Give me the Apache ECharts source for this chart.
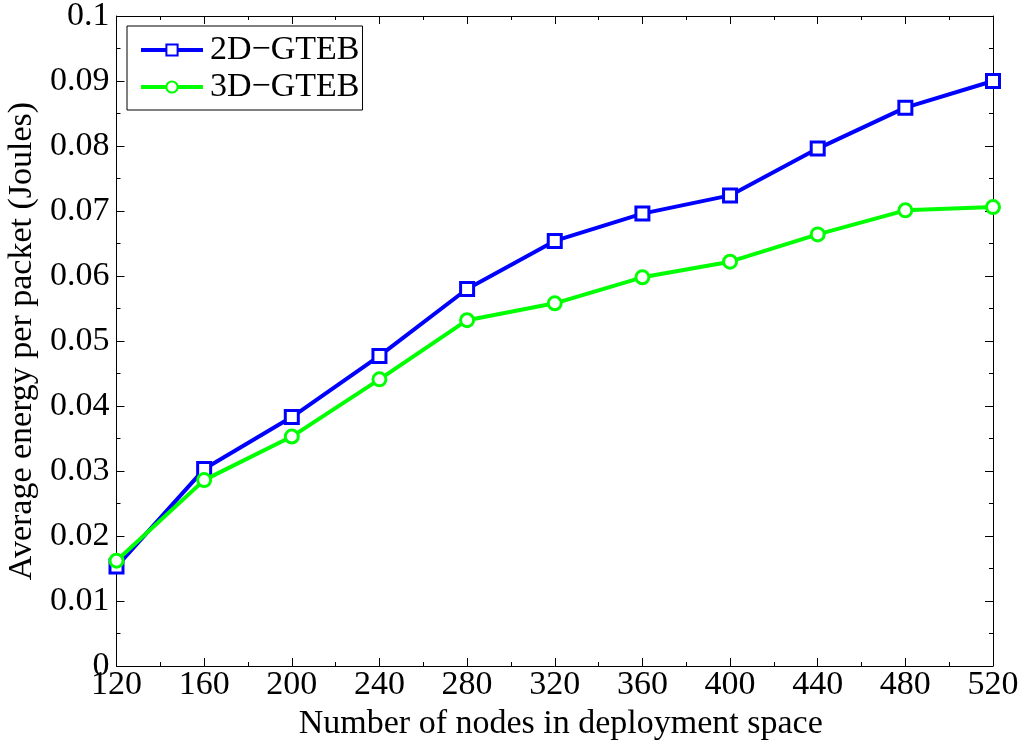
<!DOCTYPE html>
<html>
<head>
<meta charset="utf-8">
<script src="https://cdn.jsdelivr.net/npm/echarts@6/dist/echarts.min.js"></script>
<style>
  html, body { margin: 0; padding: 0; background: #fff; }
  #chart { width: 1024px; height: 742px; }
</style>
</head>
<body>
<div id="chart"></div>
<script>
// Number of nodes in the deployment space
const nodes = [120, 160, 200, 240, 280, 320, 360, 400, 440, 480, 520];
// Average energy per packet (Joules)
const energy2D = [0.0153, 0.0303, 0.0383, 0.0477, 0.0580, 0.0654, 0.0696, 0.0724, 0.0796, 0.0859, 0.0900];
const energy3D = [0.0162, 0.0286, 0.0353, 0.0441, 0.0532, 0.0558, 0.0598, 0.0622, 0.0664, 0.0701, 0.0706];
const seriesNames = ['2D\u2212GTEB', '3D\u2212GTEB'];

const FONT = '"Liberation Serif", "DejaVu Serif", serif';
const pairs = (xs, ys) => xs.map((x, i) => [x, ys[i]]);

const boxAxis = {
  axisLine: { show: true, onZero: false, lineStyle: { color: '#000', width: 1 } },
  axisTick: { show: true, inside: true, length: 8, lineStyle: { color: '#000', width: 1 } },
  minorTick: { show: true, splitNumber: 2, length: 4, lineStyle: { color: '#000', width: 1 } },
  splitLine: { show: false }
};

const xCommon = Object.assign({ type: 'value', min: 120, max: 520, interval: 40 }, boxAxis);
const yCommon = Object.assign({ type: 'value', min: 0, max: 0.1, interval: 0.01 }, boxAxis);

const chart = echarts.init(document.getElementById('chart'), null, { renderer: 'canvas' });
chart.setOption({
  backgroundColor: '#fff',
  animation: false,
  textStyle: { fontFamily: FONT },
  grid: { left: 116.5, right: 31, top: 16, bottom: 76, containLabel: false, outerBoundsMode: 'none' },
  legend: {
    orient: 'vertical',
    left: 127,
    top: 26,
    padding: [7, 3, 6, 12],
    itemWidth: 62,
    itemHeight: 14,
    itemGap: 3,
    backgroundColor: '#fff',
    borderColor: '#000',
    borderWidth: 1,
    lineStyle: { width: 4 },
    textStyle: { fontFamily: FONT, fontSize: 34, color: '#000', padding: [0, 0, 0, 2] },
    data: seriesNames
  },
  xAxis: [
    Object.assign({}, xCommon, {
      position: 'bottom',
      name: 'Number of nodes in deployment space',
      nameLocation: 'middle',
      nameGap: 36,
      nameTextStyle: { fontFamily: FONT, fontSize: 34, color: '#000', padding: [0, 0, 0, 12] },
      axisLabel: { fontFamily: FONT, fontSize: 34, color: '#000', margin: 2 }
    }),
    Object.assign({}, xCommon, { position: 'top', axisLabel: { show: false } })
  ],
  yAxis: [
    Object.assign({}, yCommon, {
      position: 'left',
      name: 'Average energy per packet (Joules)',
      nameLocation: 'middle',
      nameGap: 72,
      nameTextStyle: { fontFamily: FONT, fontSize: 34, color: '#000' },
      axisLabel: { fontFamily: FONT, fontSize: 34, color: '#000', margin: 7 }
    }),
    Object.assign({}, yCommon, { position: 'right', axisLabel: { show: false } })
  ],
  series: [
    {
      name: seriesNames[0],
      type: 'line',
      xAxisIndex: 0,
      yAxisIndex: 0,
      data: pairs(nodes, energy2D),
      symbol: 'rect',
      symbolSize: 13,
      showAllSymbol: true,
      lineStyle: { color: '#0000ff', width: 4 },
      itemStyle: { color: '#fff', borderColor: '#0000ff', borderWidth: 3 },
      z: 2
    },
    {
      name: seriesNames[1],
      type: 'line',
      xAxisIndex: 0,
      yAxisIndex: 0,
      data: pairs(nodes, energy3D),
      symbol: 'circle',
      symbolSize: 13,
      showAllSymbol: true,
      lineStyle: { color: '#00ff00', width: 4 },
      itemStyle: { color: '#fff', borderColor: '#00ff00', borderWidth: 3 },
      z: 3
    }
  ]
});
</script>
</body>
</html>
